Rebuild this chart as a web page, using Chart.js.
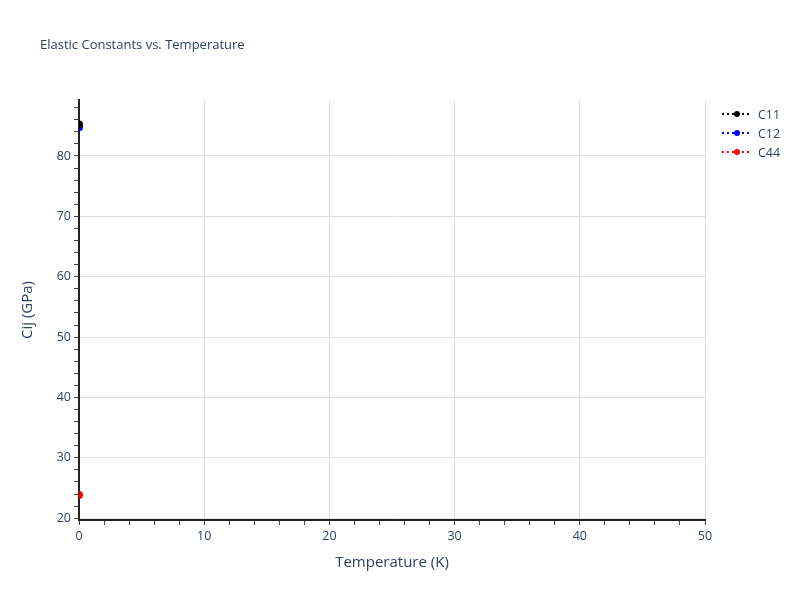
<!DOCTYPE html>
<html lang="en">
<head>
  <meta charset="utf-8" />
  <title>Elastic Constants vs. Temperature</title>
  <style>
    html, body { margin: 0; padding: 0; background: #ffffff; }
    #wrap { position: relative; width: 800px; height: 600px; }
  </style>
</head>
<body>
  <div id="wrap"><canvas id="chart" width="800" height="600"></canvas></div>

  <script src="https://cdn.jsdelivr.net/npm/chart.js"></script>

  <script>
    // Data
    const temperatures = [0];
    const c11 = [85.2];
    const c12 = [84.75];
    const c44 = [23.85];

    const seriesNames = ['C11', 'C12', 'C44'];
    const seriesColors = ['#000000', '#0000ff', '#ff0000'];

    const xTickLabels = [0, 10, 20, 30, 40, 50];
    const yTickLabels = [20, 30, 40, 50, 60, 70, 80];
    const xRange = [0, 50];
    const yRange = [19.7, 89.27];
    const minorStep = 2;

    const textColor = '#2a3f5f';
    const fontFamily = "'Open Sans', 'Noto Sans', sans-serif";

    const seriesValues = [c11, c12, c44];

    const datasets = seriesNames.map((name, i) => ({
      label: name,
      data: temperatures.map((t, j) => ({ x: t, y: seriesValues[i][j] })),
      borderColor: seriesColors[i],
      backgroundColor: seriesColors[i],
      showLine: true,
      borderDash: [2, 3],
      borderWidth: 2,
      pointRadius: 3,
      pointHoverRadius: 4,
      clip: 0
    }));

    // ticks every 2 units, labels/grid only on the major ones
    function minorTicks(min, max) {
      const out = [];
      for (let v = Math.ceil(min / minorStep) * minorStep; v <= max + 1e-9; v += minorStep) {
        out.push({ value: v });
      }
      return out;
    }
    const isMajor = (v, labels) => labels.some(l => Math.abs(l - v) < 1e-9);

    const titlePlugin = {
      id: 'plotTitle',
      afterDraw(chart) {
        const ctx = chart.ctx;
        ctx.save();
        ctx.font = `13px ${fontFamily}`;
        ctx.fillStyle = textColor;
        ctx.textBaseline = 'middle';
        ctx.fillText('Elastic Constants vs. Temperature', 40, 45);
        ctx.restore();
      }
    };

    const legendPlugin = {
      id: 'sideLegend',
      afterDraw(chart) {
        const ctx = chart.ctx;
        const x0 = chart.chartArea.right + 17;
        ctx.save();
        ctx.font = `12.5px ${fontFamily}`;
        ctx.textBaseline = 'middle';
        seriesNames.forEach((name, i) => {
          const y = 114 + i * 19;
          ctx.strokeStyle = seriesColors[i];
          ctx.lineWidth = 2;
          ctx.setLineDash([2, 3]);
          ctx.beginPath();
          ctx.moveTo(x0, y);
          ctx.lineTo(x0 + 30, y);
          ctx.stroke();
          ctx.setLineDash([]);
          ctx.fillStyle = seriesColors[i];
          ctx.beginPath();
          ctx.arc(x0 + 15, y, 3, 0, Math.PI * 2);
          ctx.fill();
          ctx.fillStyle = textColor;
          ctx.fillText(name, x0 + 36, y + 1);
        });
        ctx.restore();
      }
    };

    new Chart(document.getElementById('chart').getContext('2d'), {
      type: 'scatter',
      data: { datasets },
      plugins: [titlePlugin, legendPlugin],
      options: {
        responsive: false,
        maintainAspectRatio: false,
        animation: false,
        devicePixelRatio: 1,
        layout: { padding: { left: 0, right: 95, top: 100, bottom: 0 } },
        plugins: {
          legend: { display: false },
          tooltip: { enabled: false }
        },
        scales: {
          x: {
            type: 'linear',
            min: xRange[0],
            max: xRange[1],
            afterBuildTicks: s => { s.ticks = minorTicks(xRange[0], xRange[1]); },
            afterFit: s => { s.height = 80; },
            border: { display: true, color: '#222', width: 2 },
            grid: {
              color: c => isMajor(c.tick.value, xTickLabels) ? '#dedede' : 'rgba(0,0,0,0)',
              lineWidth: 1,
              tickColor: '#444',
              tickLength: 5,
              tickWidth: 1
            },
            ticks: {
              autoSkip: false,
              maxRotation: 0,
              padding: 4,
              color: textColor,
              font: { family: fontFamily, size: 12.5 },
              callback: v => isMajor(v, xTickLabels) ? String(v) : ''
            },
            title: {
              display: true,
              text: 'Temperature (K)',
              color: textColor,
              font: { family: fontFamily, size: 15 },
              padding: { top: 0, bottom: 28 }
            }
          },
          y: {
            type: 'linear',
            min: yRange[0],
            max: yRange[1],
            afterBuildTicks: s => { s.ticks = minorTicks(yRange[0], yRange[1]); },
            afterFit: s => { s.width = 79; },
            border: { display: true, color: '#222', width: 2 },
            grid: {
              color: c => isMajor(c.tick.value, yTickLabels) ? '#dedede' : 'rgba(0,0,0,0)',
              lineWidth: 1,
              tickColor: '#444',
              tickLength: 5,
              tickWidth: 1
            },
            ticks: {
              autoSkip: false,
              padding: 3,
              color: textColor,
              font: { family: fontFamily, size: 12.5 },
              callback: v => isMajor(v, yTickLabels) ? String(v) : ''
            },
            title: {
              display: true,
              text: 'Cij (GPa)',
              color: textColor,
              font: { family: fontFamily, size: 15 },
              padding: { top: 19, bottom: 0 }
            }
          }
        }
      }
    });
  </script>
</body>
</html>
